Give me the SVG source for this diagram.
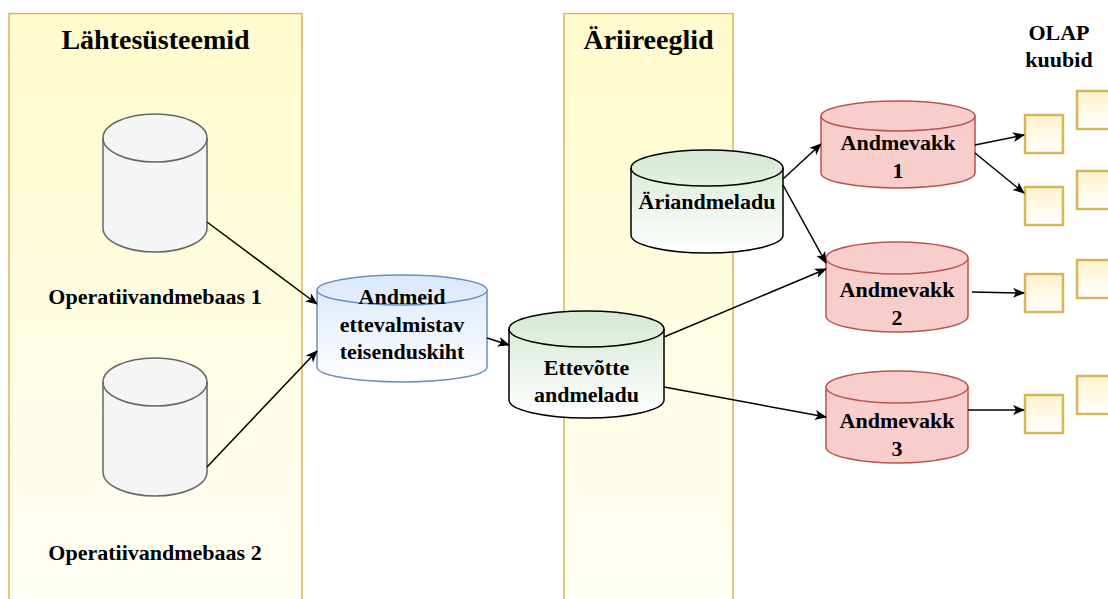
<svg xmlns="http://www.w3.org/2000/svg" width="1108" height="599" viewBox="0 0 1108 599">
  <defs>
    <linearGradient id="laneFill" x1="0" y1="0" x2="0" y2="1">
      <stop offset="0" stop-color="#fffbcc"/>
      <stop offset="1" stop-color="#fffff6"/>
    </linearGradient>
    <linearGradient id="blueFill" x1="0" y1="0" x2="0" y2="1">
      <stop offset="0" stop-color="#dae8fc"/>
      <stop offset="1" stop-color="#ffffff"/>
    </linearGradient>
    <linearGradient id="greenFill" x1="0" y1="0" x2="0" y2="1">
      <stop offset="0" stop-color="#d5e8d4"/>
      <stop offset="1" stop-color="#ffffff"/>
    </linearGradient>
    <linearGradient id="cubeFill" x1="0" y1="0" x2="0" y2="1">
      <stop offset="0" stop-color="#fff2cc"/>
      <stop offset="1" stop-color="#ffffff"/>
    </linearGradient>
    <marker id="arrow" viewBox="0 0 12 12" refX="11" refY="6" markerWidth="12" markerHeight="12" markerUnits="userSpaceOnUse" orient="auto">
      <path d="M0 1 L12 6 L0 11 L3 6 Z" fill="#000"/>
    </marker>
  </defs>
  <style>
    .lane { fill: url(#laneFill); stroke: #d6b656; stroke-width: 1.5; }
    .title { font-family: "Liberation Serif", "Times New Roman", serif; font-weight: bold; font-size: 28px; fill: #000; text-anchor: middle; }
    .label { font-family: "Liberation Serif", "Times New Roman", serif; font-weight: bold; font-size: 22px; fill: #000; text-anchor: middle; }
    .gray { fill: #f5f5f5; stroke: #666666; stroke-width: 1.5; }
    .blue { fill: url(#blueFill); stroke: #6c8ebf; stroke-width: 1.5; }
    .green { fill: url(#greenFill); stroke: #000000; stroke-width: 1.5; }
    .red { fill: #f8cecc; stroke: #b85450; stroke-width: 1.5; }
    .arc { fill: none; }
    .cube { fill: url(#cubeFill); stroke: #d6b656; stroke-width: 2.5; }
    .edge { fill: none; stroke: #000; stroke-width: 1.5; marker-end: url(#arrow); }
  </style>

  <rect width="1108" height="599" fill="#ffffff"/>

  <!-- swimlanes -->
  <g id="lane-sources">
    <rect class="lane" x="9" y="13.5" width="293" height="610"/>
    <text class="title" x="155.5" y="49">Lähtesüsteemid</text>
  </g>
  <g id="lane-rules">
    <rect class="lane" x="564" y="13.5" width="169" height="610"/>
    <text class="title" x="648.5" y="49">Äriireeglid</text>
  </g>

  <!-- source databases -->
  <g id="db-op1">
    <path class="gray" d="M103 138 A52 24 0 0 1 207 138 L207 228 A52 24 0 0 1 103 228 Z"/>
    <path class="gray arc" d="M103 138 A52 24 0 0 0 207 138"/>
    <text class="label" x="155" y="304">Operatiivandmebaas 1</text>
  </g>
  <g id="db-op2">
    <path class="gray" d="M103 382 A52 24 0 0 1 207 382 L207 472 A52 24 0 0 1 103 472 Z"/>
    <path class="gray arc" d="M103 382 A52 24 0 0 0 207 382"/>
    <text class="label" x="155" y="560">Operatiivandmebaas 2</text>
  </g>

  <!-- staging layer -->
  <g id="staging">
    <path class="blue" d="M317 290 A85 15 0 0 1 487 290 L487 367 A85 15 0 0 1 317 367 Z"/>
    <path class="blue arc" d="M317 290 A85 15 0 0 0 487 290"/>
    <text class="label" x="402" y="304">Andmeid</text>
    <text class="label" x="402" y="332">ettevalmistav</text>
    <text class="label" x="402" y="359">teisenduskiht</text>
  </g>

  <!-- enterprise warehouse -->
  <g id="edw">
    <path class="green" d="M509 329 A77.5 18 0 0 1 664 329 L664 400 A77.5 18 0 0 1 509 400 Z"/>
    <path class="green arc" d="M509 329 A77.5 18 0 0 0 664 329"/>
    <text class="label" x="586.5" y="375">Ettevõtte</text>
    <text class="label" x="586.5" y="402">andmeladu</text>
  </g>

  <!-- business warehouse -->
  <g id="bdw">
    <path class="green" d="M631 168 A76 18 0 0 1 783 168 L783 235 A76 18 0 0 1 631 235 Z"/>
    <path class="green arc" d="M631 168 A76 18 0 0 0 783 168"/>
    <text class="label" x="707" y="209">Äriandmeladu</text>
  </g>

  <!-- data marts -->
  <g id="mart-1">
    <path class="red" d="M821 116 A77 15 0 0 1 975 116 L975 173 A77 15 0 0 1 821 173 Z"/>
    <path class="red arc" d="M821 116 A77 15 0 0 0 975 116"/>
    <text class="label" x="898" y="150">Andmevakk</text>
    <text class="label" x="898" y="178">1</text>
  </g>
  <g id="mart-2">
    <path class="red" d="M826 258 A71 16 0 0 1 968 258 L968 316 A71 16 0 0 1 826 316 Z"/>
    <path class="red arc" d="M826 258 A71 16 0 0 0 968 258"/>
    <text class="label" x="897" y="297">Andmevakk</text>
    <text class="label" x="897" y="325">2</text>
  </g>
  <g id="mart-3">
    <path class="red" d="M826 387 A71 16 0 0 1 968 387 L968 447 A71 16 0 0 1 826 447 Z"/>
    <path class="red arc" d="M826 387 A71 16 0 0 0 968 387"/>
    <text class="label" x="897" y="428">Andmevakk</text>
    <text class="label" x="897" y="456">3</text>
  </g>

  <!-- OLAP cubes -->
  <g id="olap-title">
    <text class="label" x="1059" y="40">OLAP</text>
    <text class="label" x="1059" y="67">kuubid</text>
  </g>
  <g id="cube-1">
    <rect class="cube" x="1077" y="91" width="38" height="38"/>
    <rect class="cube" x="1025" y="115" width="38" height="38"/>
  </g>
  <g id="cube-2">
    <rect class="cube" x="1077" y="171" width="38" height="38"/>
    <rect class="cube" x="1025" y="187" width="38" height="38"/>
  </g>
  <g id="cube-3">
    <rect class="cube" x="1077" y="260" width="38" height="38"/>
    <rect class="cube" x="1025" y="274" width="38" height="38"/>
  </g>
  <g id="cube-4">
    <rect class="cube" x="1077" y="376" width="38" height="38"/>
    <rect class="cube" x="1025" y="395" width="38" height="38"/>
  </g>

  <!-- connectors -->
  <g id="connectors">
    <line class="edge" x1="207" y1="222" x2="317" y2="304"/>
    <line class="edge" x1="207" y1="467" x2="317" y2="351"/>
    <line class="edge" x1="487" y1="338" x2="509" y2="345"/>
    <line class="edge" x1="664" y1="337" x2="826" y2="269"/>
    <line class="edge" x1="664" y1="387" x2="826" y2="417"/>
    <line class="edge" x1="783" y1="179" x2="821" y2="144"/>
    <line class="edge" x1="783" y1="185" x2="826" y2="263"/>
    <line class="edge" x1="975" y1="145" x2="1024" y2="135"/>
    <line class="edge" x1="975" y1="153" x2="1024" y2="193"/>
    <line class="edge" x1="972" y1="292" x2="1024" y2="293"/>
    <line class="edge" x1="968" y1="410" x2="1024" y2="410"/>
  </g>
</svg>
